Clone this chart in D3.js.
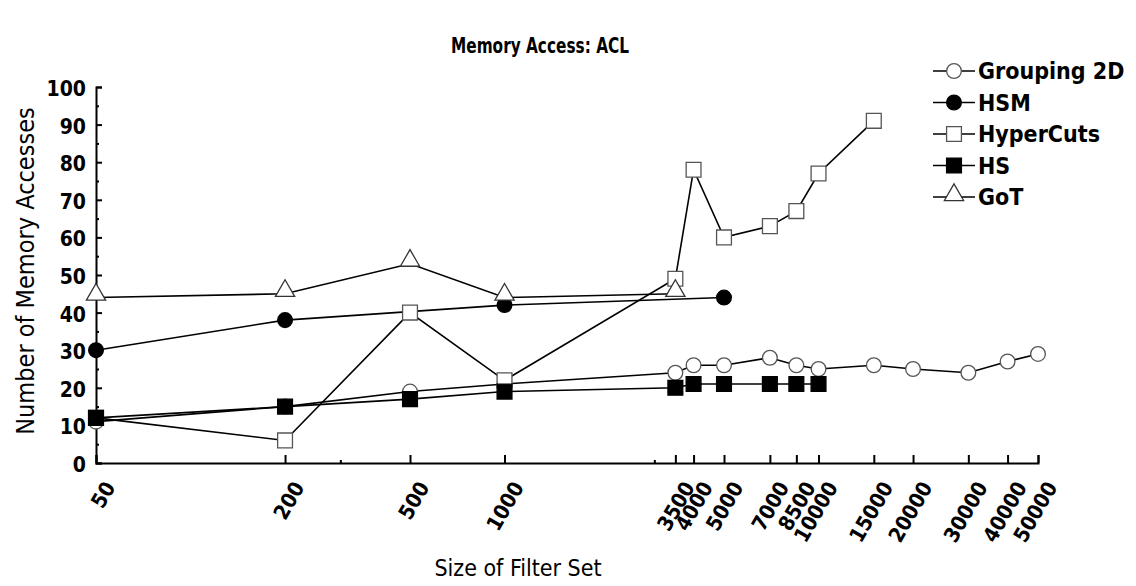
<!DOCTYPE html>
<html><head><meta charset="utf-8">
<script src="https://cdn.jsdelivr.net/npm/d3@7"></script>
<style>
body{margin:0;background:#fff;}
text{font-family:"DejaVu Sans Condensed","DejaVu Sans",sans-serif;fill:#000;}
</style></head>
<body><svg id="c" width="1136" height="586"></svg>
<script>
const xTickValues = [50,200,500,1000,3500,4000,5000,7000,8500,10000,15000,20000,30000,40000,50000];
const xMinorTicks = [300,3000];
const yTickValues = [0,10,20,30,40,50,60,70,80,90,100];

const groupingX = [50,200,500,1000,3500,4000,5000,7000,8500,10000,15000,20000,30000,40000,50000];
const groupingY = [11,15,19,21,24,26,26,28,26,25,26,25,24,27,29];
const hsmX = [50,200,1000,5000];
const hsmY = [30,38,42,44];
const hyperX = [50,200,500,1000,3500,4000,5000,7000,8500,10000,15000];
const hyperY = [12,6,40,22,49,78,60,63,67,77,91];
const hsX = [50,200,500,1000,3500,4000,5000,7000,8500,10000];
const hsY = [12,15,17,19,20,21,21,21,21,21];
const gotX = [50,200,500,1000,3500];
const gotY = [44,45,53,44,45];

const series = [
  {name:"Grouping 2D", xs:groupingX, ys:groupingY, sym:"circle", fill:"#fff", stroke:"#555"},
  {name:"HSM", xs:hsmX, ys:hsmY, sym:"circle", fill:"#000", stroke:"#000"},
  {name:"HyperCuts", xs:hyperX, ys:hyperY, sym:"square", fill:"#fff", stroke:"#555"},
  {name:"HS", xs:hsX, ys:hsY, sym:"square", fill:"#000", stroke:"#000"},
  {name:"GoT", xs:gotX, ys:gotY, sym:"triangle", fill:"#fff", stroke:"#333"}
];

const svg = d3.select("#c");
const x = d3.scaleLog().domain([50,50000]).range([96,1038]);
const y = d3.scaleLinear().domain([0,100]).range([463,87]);

// title
svg.append("text").attr("x",540).attr("y",53).attr("text-anchor","middle")
  .attr("font-size",21).attr("font-weight","bold")
  .attr("textLength",178).attr("lengthAdjust","spacingAndGlyphs").text("Memory Access: ACL");

// axes
const yAxis = d3.axisRight(y).tickValues(yTickValues).tickSize(6).tickFormat("");
svg.append("g").attr("transform","translate(96,0)").call(yAxis);
const yMinor = d3.axisRight(y).tickValues(d3.range(5,100,10)).tickSize(3).tickFormat("");
svg.append("g").attr("transform","translate(96,0)").call(yMinor).select(".domain").remove();
const xAxis = d3.axisTop(x).tickValues(xTickValues).tickSize(8).tickFormat("");
svg.append("g").attr("transform","translate(0,463)").call(xAxis);
const xMinor = d3.axisTop(x).tickValues(xMinorTicks).tickSize(3).tickFormat("");
svg.append("g").attr("transform","translate(0,463)").call(xMinor).select(".domain").remove();
svg.selectAll(".domain").attr("stroke","#000").attr("stroke-width",2);
svg.selectAll(".tick line").attr("stroke","#000").attr("stroke-width",2);

// y tick labels
svg.append("g").selectAll("text").data(yTickValues).join("text")
  .attr("x",86).attr("y",d=>y(d)+9).attr("text-anchor","end")
  .attr("font-size",21).attr("font-weight","bold").text(d=>d);
// x tick labels
svg.append("g").selectAll("text").data(xTickValues).join("text")
  .attr("text-anchor","end").attr("font-size",21).attr("font-weight","bold")
  .attr("transform",d=>`translate(${x(d)+20},${487}) rotate(-60)`).text(d=>d);

// axis titles
svg.append("text").attr("x",518).attr("y",576).attr("text-anchor","middle")
  .attr("font-size",23).text("Size of Filter Set");
svg.append("text").attr("transform","translate(34,271) rotate(-90)").attr("text-anchor","middle")
  .attr("font-size",25).text("Number of Memory Accesses");

const symType = {circle:d3.symbolCircle, square:d3.symbolSquare, triangle:d3.symbolTriangle};
const symSize = {circle:170, square:220, triangle:160};
const line = d3.line().x(d=>x(d[0])).y(d=>y(d[1]));

series.forEach(s=>{
  const pts = s.xs.map((v,i)=>[v,s.ys[i]]);
  svg.append("path").attr("d",line(pts)).attr("fill","none").attr("stroke","#000").attr("stroke-width",1.6);
});
series.forEach(s=>{
  const pts = s.xs.map((v,i)=>[v,s.ys[i]]);
  svg.append("g").selectAll("path").data(pts).join("path")
    .attr("transform",d=>`translate(${x(d[0])},${y(d[1]) + (s.sym==="triangle"?-3:0)})`)
    .attr("d",d3.symbol().type(symType[s.sym]).size(symSize[s.sym]))
    .attr("fill",s.fill).attr("stroke",s.stroke).attr("stroke-width",1.3);
});

// legend
const lg = svg.append("g");
series.forEach((s,i)=>{
  const yy = 71 + i*31.5;
  lg.append("line").attr("x1",933).attr("x2",975).attr("y1",yy).attr("y2",yy).attr("stroke","#000").attr("stroke-width",1.6);
  lg.append("path").attr("transform",`translate(954,${yy + (s.sym==="triangle"?-2:0)})`)
    .attr("d",d3.symbol().type(symType[s.sym]).size(symSize[s.sym]))
    .attr("fill",s.fill).attr("stroke",s.stroke).attr("stroke-width",1.3);
  lg.append("text").attr("x",978).attr("y",yy+8).attr("font-size",23).attr("font-weight","bold").text(s.name);
});
</script></body></html>
